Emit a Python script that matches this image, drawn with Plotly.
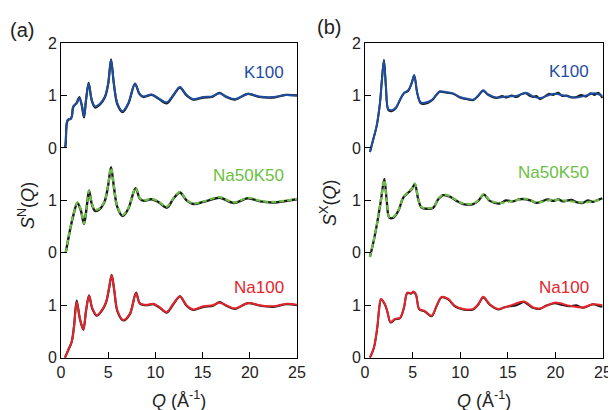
import plotly.graph_objects as go

# ---------------- data ----------------
# Panel (a): neutron S^N(Q)
nk_q = [0.45, 0.5, 0.6, 0.7, 0.8, 1.0, 1.15, 1.3, 1.66, 1.94, 2.2, 2.44, 2.65, 2.93, 3.25, 3.6, 4.13, 4.66, 5.0, 5.3,
        5.6, 5.97, 6.53, 7.13, 7.84, 8.3, 8.72, 9.6, 10.3, 11.2, 11.9, 12.6, 13.3, 14.0, 15.1, 16.0, 16.8, 17.5,
        18.4, 19.8, 21.0, 22.5, 23.8, 25.0]
nk_s = [0.0, 0.1, 0.47, 0.53, 0.55, 0.55, 0.6, 0.79, 0.85, 0.95, 0.82, 0.6, 0.92, 1.23, 0.92, 0.79, 0.84, 0.98, 1.23, 1.68,
        1.23, 0.85, 0.70, 0.85, 1.23, 1.04, 0.98, 1.02, 0.95, 0.87, 1.01, 1.16, 1.01, 0.93, 0.97, 0.98, 1.04, 0.98,
        0.93, 1.03, 0.98, 0.97, 1.01, 1.0]
nk_exp = [0.0, 0.1, 0.45, 0.52, 0.54, 0.55, 0.6, 0.78, 0.86, 0.97, 0.81, 0.58, 0.91, 1.24, 0.91, 0.77, 0.83, 0.97, 1.22, 1.69,
          1.22, 0.83, 0.68, 0.84, 1.22, 1.03, 0.97, 1.01, 0.94, 0.85, 1.0, 1.15, 1.0, 0.92, 0.96, 0.97, 1.05, 0.97,
          0.92, 1.03, 0.97, 0.96, 1.01, 1.0]

nm_q = [0.5, 0.95, 1.3, 1.73, 2.1, 2.44, 2.72, 2.97, 3.25, 3.6, 4.13, 4.66, 5.0, 5.3, 5.6, 5.97, 6.53, 7.13, 7.9, 8.36,
        8.8, 9.6, 10.3, 11.2, 11.9, 12.6, 13.3, 14.0, 15.1, 16.8, 18.3, 19.8, 21.1, 22.5, 25.0]
nm_s = [0.0, 0.44, 0.72, 0.96, 0.82, 0.56, 0.88, 1.18, 0.95, 0.82, 0.85, 1.01, 1.30, 1.62, 1.27, 0.88, 0.72, 0.85, 1.24, 1.04,
        1.0, 1.03, 0.98, 0.88, 1.04, 1.16, 1.01, 0.94, 0.98, 1.06, 0.96, 1.05, 0.99, 0.97, 1.03]
nm_exp = [0.0, 0.43, 0.71, 0.95, 0.81, 0.55, 0.87, 1.19, 0.94, 0.80, 0.84, 1.0, 1.29, 1.63, 1.26, 0.87, 0.70, 0.84, 1.23, 1.03,
          0.99, 1.02, 0.97, 0.86, 1.03, 1.15, 1.0, 0.93, 0.97, 1.05, 0.95, 1.04, 0.98, 0.96, 1.02]

nn_q = [0.42, 0.78, 1.13, 1.38, 1.66, 2.0, 2.37, 2.65, 2.97, 3.32, 3.78, 4.3, 4.77, 5.08, 5.37, 5.65, 5.97, 6.6, 7.3,
        7.95, 8.36, 9.07, 9.77, 10.4, 11.2, 11.9, 12.6, 13.3, 14.0, 15.1, 16.1, 16.8, 17.5, 18.4, 19.8, 21.1, 22.5,
        23.9, 25.0]
nn_s = [0.0, 0.15, 0.30, 0.59, 1.06, 0.75, 0.54, 0.9, 1.18, 0.94, 0.81, 0.9, 1.06, 1.32, 1.57, 1.28, 0.9, 0.72, 0.84,
        1.23, 1.04, 1.01, 1.03, 0.97, 0.87, 1.03, 1.16, 1.0, 0.92, 0.98, 1.0, 1.05, 1.0, 0.94, 1.04, 1.0, 0.98,
        1.03, 1.01]
nn_exp = [0.0, 0.15, 0.30, 0.6, 1.09, 0.74, 0.53, 0.89, 1.19, 0.93, 0.80, 0.89, 1.05, 1.31, 1.58, 1.27, 0.89, 0.71, 0.83,
          1.24, 1.03, 1.0, 1.02, 0.96, 0.86, 1.02, 1.17, 0.99, 0.91, 0.97, 0.99, 1.06, 0.99, 0.93, 1.04, 0.99, 0.97,
          1.02, 1.0]

# Panel (b): X-ray S^X(Q)
xk_q = [0.52, 0.87, 1.22, 1.57, 1.78, 1.99, 2.2, 2.45, 2.8, 3.25, 3.67, 4.09, 4.55, 4.9, 5.17, 5.49, 5.84, 6.29, 6.99,
        7.52, 7.87, 8.57, 9.27, 9.97, 10.66, 11.36, 11.89, 12.41, 12.94, 13.81, 14.86, 15.91, 16.89, 17.66, 18.36,
        19.76, 21.15, 22.2, 23.25, 24.13, 24.93]
xk_s = [-0.08, 0.17, 0.42, 0.86, 1.3, 1.66, 1.17, 0.74, 0.72, 0.77, 0.92, 1.05, 1.1, 1.24, 1.39, 1.05, 0.87, 0.86, 0.91,
        1.02, 1.08, 1.06, 1.04, 0.97, 0.94, 0.92, 1.0, 1.1, 1.02, 0.96, 0.98, 0.99, 1.05, 0.98, 0.95, 1.03, 0.99, 0.96,
        1.0, 1.04, 0.99]
xk_exp_q = [0.52, 0.87, 1.22, 1.57, 1.78, 1.99, 2.2, 2.45, 2.8, 3.25, 3.67, 4.09, 4.55, 4.9, 5.17, 5.49, 5.84, 6.29, 6.99,
            7.52, 7.87, 8.57, 9.27, 9.97, 10.66, 11.36, 11.89, 12.41, 12.94, 13.81, 14.4, 14.86, 15.4, 15.91, 16.4,
            16.89, 17.3, 17.66, 18.0, 18.36, 18.9, 19.3, 19.76, 20.3, 20.7, 21.15, 21.7, 22.2, 22.7, 23.25, 23.7,
            24.13, 24.5, 24.93]
xk_exp = [-0.08, 0.16, 0.41, 0.85, 1.31, 1.68, 1.16, 0.72, 0.70, 0.76, 0.91, 1.04, 1.09, 1.23, 1.38, 1.04, 0.85, 0.84, 0.90,
          1.01, 1.07, 1.05, 1.03, 0.96, 0.93, 0.91, 0.99, 1.09, 1.01, 0.95, 0.99, 0.96, 1.0, 0.97, 1.02, 1.04, 0.99,
          0.97, 0.99, 0.93, 0.98, 1.03, 1.01, 1.05, 0.99, 1.0, 0.96, 0.97, 1.01, 0.98, 1.04, 1.01, 1.05, 0.95]

xm_q = [0.52, 0.87, 1.29, 1.64, 2.03, 2.27, 2.55, 2.97, 3.5, 4.02, 4.55, 4.9, 5.24, 5.59, 5.94, 6.47, 7.17, 7.69, 8.22,
        8.92, 9.62, 10.31, 11.36, 11.89, 12.48, 13.11, 14.16, 15.56, 16.96, 18.01, 19.76, 21.15, 22.9, 23.95, 24.93]
xm_s = [-0.08, 0.2, 0.59, 0.97, 1.39, 1.03, 0.68, 0.68, 0.81, 1.06, 1.16, 1.22, 1.32, 1.03, 0.87, 0.85, 0.87, 1.03, 1.11,
        1.08, 1.0, 0.94, 0.94, 1.0, 1.12, 1.0, 0.95, 0.99, 1.03, 0.96, 1.01, 0.99, 0.96, 0.98, 1.03]
xm_exp_q = [0.52, 0.87, 1.29, 1.64, 2.03, 2.27, 2.55, 2.97, 3.5, 4.02, 4.55, 4.9, 5.24, 5.59, 5.94, 6.47, 7.17, 7.69, 8.22,
            8.92, 9.62, 10.31, 11.36, 11.89, 12.48, 13.11, 14.16, 14.8, 15.56, 16.2, 16.96, 17.5, 18.01, 18.6, 19.2,
            19.76, 20.3, 20.8, 21.15, 21.7, 22.3, 22.9, 23.4, 23.95, 24.5, 24.93]
xm_exp = [-0.08, 0.19, 0.58, 0.96, 1.41, 1.02, 0.67, 0.67, 0.80, 1.05, 1.15, 1.21, 1.31, 1.02, 0.86, 0.84, 0.86, 1.02, 1.10,
          1.07, 0.99, 0.93, 0.93, 0.99, 1.11, 0.99, 0.94, 1.0, 0.98, 1.02, 1.02, 0.99, 0.95, 0.98, 1.02, 0.99, 1.02,
          0.98, 0.99, 1.01, 0.96, 0.95, 1.0, 0.97, 1.01, 1.04]

xn_q = [0.52, 0.94, 1.29, 1.5, 1.68, 2.1, 2.34, 2.69, 3.15, 3.67, 4.09, 4.44, 4.83, 5.07, 5.35, 5.7, 6.29, 6.99, 7.52,
        8.04, 8.74, 9.44, 10.31, 11.36, 11.89, 12.41, 13.11, 13.99, 15.21, 16.68, 17.66, 18.36, 19.93, 21.5, 22.9,
        23.95, 24.93]
xn_s = [0.0, 0.2, 0.58, 0.96, 1.12, 1.02, 0.89, 0.68, 0.74, 0.76, 0.96, 1.24, 1.23, 1.26, 1.21, 0.93, 0.89, 0.8, 0.99,
        1.16, 1.12, 0.99, 0.93, 0.93, 1.02, 1.16, 1.02, 0.93, 0.99, 1.07, 0.96, 0.94, 1.05, 0.99, 0.96, 1.02, 1.0]
xn_exp_q = [0.52, 0.94, 1.29, 1.5, 1.68, 2.1, 2.34, 2.69, 3.15, 3.67, 4.09, 4.44, 4.83, 5.07, 5.35, 5.7, 6.29, 6.99, 7.52,
            8.04, 8.74, 9.44, 10.31, 11.36, 11.89, 12.41, 13.11, 13.99, 14.6, 15.21, 15.9, 16.68, 17.2, 17.66, 18.36,
            19.0, 19.93, 20.6, 21.5, 22.2, 22.9, 23.5, 23.95, 24.5, 24.93]
xn_exp = [0.0, 0.19, 0.57, 0.95, 1.11, 1.01, 0.88, 0.67, 0.73, 0.75, 0.95, 1.23, 1.22, 1.25, 1.2, 0.92, 0.88, 0.79, 0.98,
          1.15, 1.11, 0.98, 0.92, 0.92, 1.01, 1.15, 1.01, 0.92, 0.96, 0.98, 1.0, 1.06, 1.0, 0.95, 0.93, 0.99, 1.04,
          1.01, 0.98, 1.0, 0.95, 0.99, 1.02, 0.99, 0.97]

ytick_vals = [0, 1, 2, 3, 4, 5, 6]
ytick_text = ["0", "1", "0", "1", "0", "1", "2"]
xtick_vals = [0, 5, 10, 15, 20, 25]
samples = ["K100", "Na50K50", "Na100"]
offsets = [4, 2, 0]

# ---------------- styling ----------------
BLUE = "#1f4e9f"
GREEN = "#6abf44"
RED = "#e5252b"
BLACK = "#1a1a1a"
FONT = "Liberation Sans, Arial, sans-serif"
# the page body has an 8px margin: the figure is drawn 8px smaller and
# every page position below is shifted by that margin
PAD = 8
W, H = 616 - PAD, 410 - PAD


def px(x):
    return (x - PAD) / W


def py(y):
    return 1 - (y - PAD) / H


fig = go.Figure()


def add(q, s, off, color, width, xa, ya, dash=None):
    fig.add_trace(go.Scatter(
        x=q, y=[v + off for v in s], mode="lines",
        line=dict(color=color, width=width, shape="spline", smoothing=0.9, dash=dash),
        xaxis=xa, yaxis=ya, showlegend=False, hoverinfo="skip"))


# panel (a)
add(nk_q, nk_exp, offsets[0], BLACK, 2.2, "x", "y")
add(nk_q, nk_s, offsets[0], BLUE, 2.0, "x", "y")
add(nm_q, nm_exp, offsets[1], BLACK, 2.4, "x", "y")
add(nm_q, nm_s, offsets[1], GREEN, 2.2, "x", "y", dash="5px,3px")
add(nn_q, nn_exp, offsets[2], BLACK, 2.2, "x", "y")
add(nn_q, nn_s, offsets[2], RED, 2.0, "x", "y")

# panel (b)
add(xk_exp_q, xk_exp, offsets[0], BLACK, 2.0, "x2", "y2")
add(xk_q, xk_s, offsets[0], BLUE, 2.0, "x2", "y2")
add(xm_exp_q, xm_exp, offsets[1], BLACK, 2.3, "x2", "y2")
add(xm_q, xm_s, offsets[1], GREEN, 2.2, "x2", "y2", dash="5px,3px")
add(xn_exp_q, xn_exp, offsets[2], BLACK, 2.0, "x2", "y2")
add(xn_q, xn_s, offsets[2], RED, 2.0, "x2", "y2")

axis_common = dict(showline=True, linecolor="black", linewidth=1, mirror=True,
                   ticks="inside", ticklen=6, tickwidth=1, tickcolor="black",
                   showgrid=False, zeroline=False, automargin=False,
                   tickfont=dict(family=FONT, size=16, color="#222"))

ya_dom = [py(357.7), py(43)]

fig.update_layout(
    width=W, height=H, margin=dict(l=0, r=0, t=0, b=0, autoexpand=False),
    paper_bgcolor="white", plot_bgcolor="white",
    xaxis=dict(domain=[px(61), px(297)], range=[0, 25], tickvals=xtick_vals, anchor="y", **axis_common),
    yaxis=dict(domain=ya_dom, range=[0, 6], tickvals=ytick_vals, ticktext=ytick_text, anchor="x", **axis_common),
    xaxis2=dict(domain=[px(365), min(1.0, px(603))], range=[0, 25], tickvals=xtick_vals, anchor="y2", **axis_common),
    yaxis2=dict(domain=ya_dom, range=[0, 6], tickvals=ytick_vals, ticktext=ytick_text, anchor="x2", **axis_common),
)

ann = []


def text(x, y, t, size, color="#222", xanchor="center", angle=0):
    ann.append(dict(x=px(x), y=py(y), xref="paper", yref="paper", text=t, showarrow=False,
                    xanchor=xanchor, yanchor="middle", textangle=angle,
                    font=dict(family=FONT, size=size, color=color)))


text(22, 30, "(a)", 20)
text(329, 27, "(b)", 20)
text(26, 206, "<i>S</i><sup>N</sup>(<i>Q</i>)", 18, angle=-90)
text(329, 203, "<i>S</i><sup>X</sup>(<i>Q</i>)", 18, angle=-90)
text(179, 399, "<i>Q</i> (Å<sup>-1</sup>)", 18)
text(484, 399, "<i>Q</i> (Å<sup>-1</sup>)", 18)

colors = [BLUE, GREEN, RED]
ys_a = [72.5, 175.5, 287.5]
ys_b = [71.5, 173, 287]
for name, c, ya, yb in zip(samples, colors, ys_a, ys_b):
    text(286, ya, name, 17, color=c, xanchor="right")
    text(591, yb, name, 17, color=c, xanchor="right")

fig.update_layout(annotations=ann)
fig.write_html("out.html")
